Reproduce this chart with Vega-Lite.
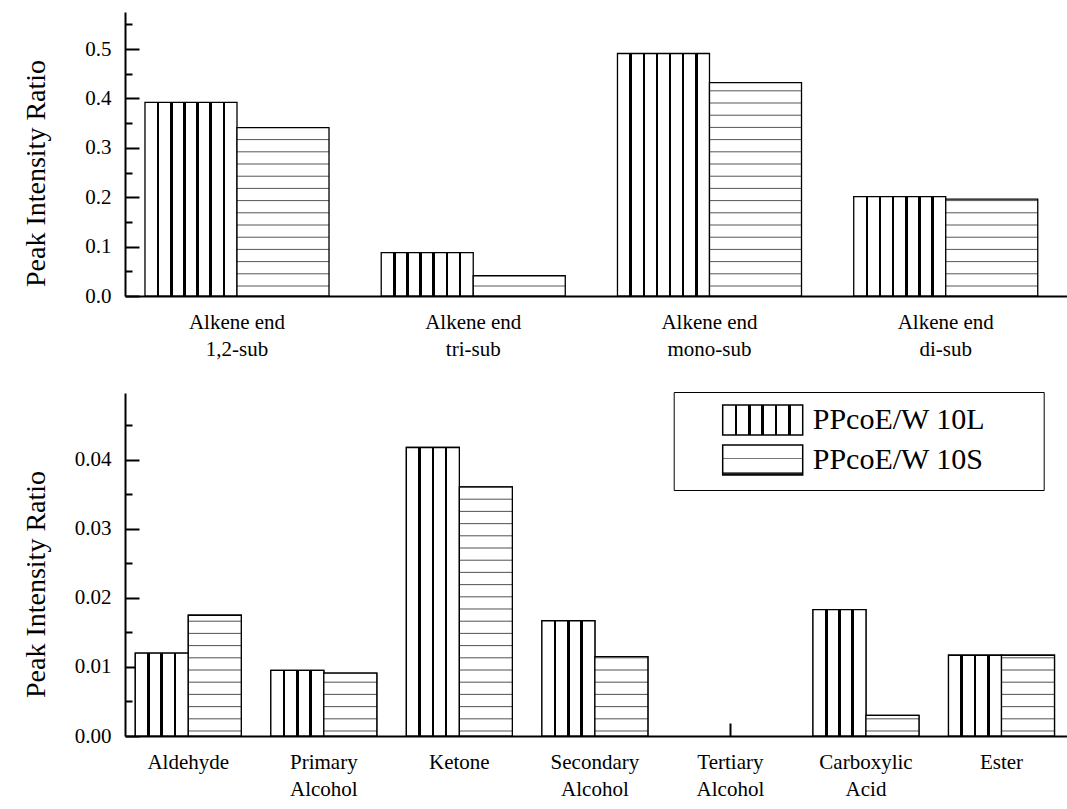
{
  "$schema": "https://vega.github.io/schema/vega-lite/v6.json",
  "background": "white",
  "padding": {"left": 22, "top": 12, "right": 0, "bottom": 0},
  "spacing": 32,
  "params": [
    {"name": "lGradTop", "value": {"gradient": "linear", "x1": 0, "y1": 0, "x2": 1, "y2": 0, "stops": [
      {"offset": 0, "color": "#ffffff"},
      {"offset": 0.129, "color": "#ffffff"}, {"offset": 0.129, "color": "#000000"}, {"offset": 0.157, "color": "#000000"}, {"offset": 0.157, "color": "#ffffff"},
      {"offset": 0.272, "color": "#ffffff"}, {"offset": 0.272, "color": "#000000"}, {"offset": 0.300, "color": "#000000"}, {"offset": 0.300, "color": "#ffffff"},
      {"offset": 0.415, "color": "#ffffff"}, {"offset": 0.415, "color": "#000000"}, {"offset": 0.443, "color": "#000000"}, {"offset": 0.443, "color": "#ffffff"},
      {"offset": 0.557, "color": "#ffffff"}, {"offset": 0.557, "color": "#000000"}, {"offset": 0.585, "color": "#000000"}, {"offset": 0.585, "color": "#ffffff"},
      {"offset": 0.700, "color": "#ffffff"}, {"offset": 0.700, "color": "#000000"}, {"offset": 0.728, "color": "#000000"}, {"offset": 0.728, "color": "#ffffff"},
      {"offset": 0.843, "color": "#ffffff"}, {"offset": 0.843, "color": "#000000"}, {"offset": 0.871, "color": "#000000"}, {"offset": 0.871, "color": "#ffffff"},
      {"offset": 1, "color": "#ffffff"}
    ]}},
    {"name": "lGradBottom", "value": {"gradient": "linear", "x1": 0, "y1": 0, "x2": 1, "y2": 0, "stops": [
      {"offset": 0, "color": "#ffffff"},
      {"offset": 0.225, "color": "#ffffff"}, {"offset": 0.225, "color": "#000000"}, {"offset": 0.275, "color": "#000000"}, {"offset": 0.275, "color": "#ffffff"},
      {"offset": 0.475, "color": "#ffffff"}, {"offset": 0.475, "color": "#000000"}, {"offset": 0.525, "color": "#000000"}, {"offset": 0.525, "color": "#ffffff"},
      {"offset": 0.725, "color": "#ffffff"}, {"offset": 0.725, "color": "#000000"}, {"offset": 0.775, "color": "#000000"}, {"offset": 0.775, "color": "#ffffff"},
      {"offset": 1, "color": "#ffffff"}
    ]}},
    {"name": "lGradLegend", "value": {"gradient": "linear", "x1": 0, "y1": 0, "x2": 1, "y2": 0, "stops": [
      {"offset": 0, "color": "#ffffff"},
      {"offset": 0.0395, "color": "#ffffff"}, {"offset": 0.0395, "color": "#000000"}, {"offset": 0.0479, "color": "#000000"}, {"offset": 0.0479, "color": "#ffffff"},
      {"offset": 0.0831, "color": "#ffffff"}, {"offset": 0.0831, "color": "#000000"}, {"offset": 0.0915, "color": "#000000"}, {"offset": 0.0915, "color": "#ffffff"},
      {"offset": 0.1268, "color": "#ffffff"}, {"offset": 0.1268, "color": "#000000"}, {"offset": 0.1352, "color": "#000000"}, {"offset": 0.1352, "color": "#ffffff"},
      {"offset": 0.1704, "color": "#ffffff"}, {"offset": 0.1704, "color": "#000000"}, {"offset": 0.1788, "color": "#000000"}, {"offset": 0.1788, "color": "#ffffff"},
      {"offset": 0.2141, "color": "#ffffff"}, {"offset": 0.2141, "color": "#000000"}, {"offset": 0.2225, "color": "#000000"}, {"offset": 0.2225, "color": "#ffffff"},
      {"offset": 1, "color": "#ffffff"}
    ]}},
    {"name": "sGradLegend", "value": {"gradient": "linear", "x1": 0, "y1": 0, "x2": 0, "y2": 1, "stops": [
      {"offset": 0, "color": "#ffffff"},
      {"offset": 0.42, "color": "#ffffff"}, {"offset": 0.45, "color": "#777777"}, {"offset": 0.48, "color": "#ffffff"},
      {"offset": 0.89, "color": "#ffffff"}, {"offset": 0.93, "color": "#222222"}, {"offset": 1, "color": "#222222"}
    ]}},
    {"name": "sStopsTop", "value": [
      {"offset": 0, "color": "#ffffff"},
      {"offset": 0.0317, "color": "#ffffff"}, {"offset": 0.0352, "color": "#555555"}, {"offset": 0.0387, "color": "#ffffff"},
      {"offset": 0.0747, "color": "#ffffff"}, {"offset": 0.0782, "color": "#555555"}, {"offset": 0.0817, "color": "#ffffff"},
      {"offset": 0.1176, "color": "#ffffff"}, {"offset": 0.1211, "color": "#555555"}, {"offset": 0.1246, "color": "#ffffff"},
      {"offset": 0.1606, "color": "#ffffff"}, {"offset": 0.1641, "color": "#555555"}, {"offset": 0.1676, "color": "#ffffff"},
      {"offset": 0.2035, "color": "#ffffff"}, {"offset": 0.2070, "color": "#555555"}, {"offset": 0.2105, "color": "#ffffff"},
      {"offset": 0.2465, "color": "#ffffff"}, {"offset": 0.2500, "color": "#555555"}, {"offset": 0.2535, "color": "#ffffff"},
      {"offset": 0.2895, "color": "#ffffff"}, {"offset": 0.2930, "color": "#555555"}, {"offset": 0.2965, "color": "#ffffff"},
      {"offset": 0.3324, "color": "#ffffff"}, {"offset": 0.3359, "color": "#555555"}, {"offset": 0.3394, "color": "#ffffff"},
      {"offset": 0.3754, "color": "#ffffff"}, {"offset": 0.3789, "color": "#555555"}, {"offset": 0.3824, "color": "#ffffff"},
      {"offset": 0.4183, "color": "#ffffff"}, {"offset": 0.4218, "color": "#555555"}, {"offset": 0.4253, "color": "#ffffff"},
      {"offset": 0.4613, "color": "#ffffff"}, {"offset": 0.4648, "color": "#555555"}, {"offset": 0.4683, "color": "#ffffff"},
      {"offset": 0.5042, "color": "#ffffff"}, {"offset": 0.5077, "color": "#555555"}, {"offset": 0.5112, "color": "#ffffff"},
      {"offset": 0.5472, "color": "#ffffff"}, {"offset": 0.5507, "color": "#555555"}, {"offset": 0.5542, "color": "#ffffff"},
      {"offset": 0.5902, "color": "#ffffff"}, {"offset": 0.5937, "color": "#555555"}, {"offset": 0.5972, "color": "#ffffff"},
      {"offset": 0.6331, "color": "#ffffff"}, {"offset": 0.6366, "color": "#555555"}, {"offset": 0.6401, "color": "#ffffff"},
      {"offset": 0.6761, "color": "#ffffff"}, {"offset": 0.6796, "color": "#555555"}, {"offset": 0.6831, "color": "#ffffff"},
      {"offset": 0.7190, "color": "#ffffff"}, {"offset": 0.7225, "color": "#555555"}, {"offset": 0.7260, "color": "#ffffff"},
      {"offset": 0.7620, "color": "#ffffff"}, {"offset": 0.7655, "color": "#555555"}, {"offset": 0.7690, "color": "#ffffff"},
      {"offset": 0.8050, "color": "#ffffff"}, {"offset": 0.8085, "color": "#555555"}, {"offset": 0.8120, "color": "#ffffff"},
      {"offset": 0.8479, "color": "#ffffff"}, {"offset": 0.8514, "color": "#555555"}, {"offset": 0.8549, "color": "#ffffff"},
      {"offset": 0.8909, "color": "#ffffff"}, {"offset": 0.8944, "color": "#555555"}, {"offset": 0.8979, "color": "#ffffff"},
      {"offset": 0.9338, "color": "#ffffff"}, {"offset": 0.9373, "color": "#555555"}, {"offset": 0.9408, "color": "#ffffff"},
      {"offset": 0.9768, "color": "#ffffff"}, {"offset": 0.9803, "color": "#555555"}, {"offset": 0.9838, "color": "#ffffff"},
      {"offset": 1, "color": "#ffffff"}
    ]},
    {"name": "sStopsBottom", "value": [
      {"offset": 0, "color": "#ffffff"},
      {"offset": 0.0116, "color": "#ffffff"}, {"offset": 0.0146, "color": "#555555"}, {"offset": 0.0176, "color": "#ffffff"},
      {"offset": 0.0471, "color": "#ffffff"}, {"offset": 0.0501, "color": "#555555"}, {"offset": 0.0531, "color": "#ffffff"},
      {"offset": 0.0827, "color": "#ffffff"}, {"offset": 0.0857, "color": "#555555"}, {"offset": 0.0887, "color": "#ffffff"},
      {"offset": 0.1183, "color": "#ffffff"}, {"offset": 0.1213, "color": "#555555"}, {"offset": 0.1243, "color": "#ffffff"},
      {"offset": 0.1539, "color": "#ffffff"}, {"offset": 0.1569, "color": "#555555"}, {"offset": 0.1599, "color": "#ffffff"},
      {"offset": 0.1894, "color": "#ffffff"}, {"offset": 0.1924, "color": "#555555"}, {"offset": 0.1954, "color": "#ffffff"},
      {"offset": 0.2250, "color": "#ffffff"}, {"offset": 0.2280, "color": "#555555"}, {"offset": 0.2310, "color": "#ffffff"},
      {"offset": 0.2606, "color": "#ffffff"}, {"offset": 0.2636, "color": "#555555"}, {"offset": 0.2666, "color": "#ffffff"},
      {"offset": 0.2961, "color": "#ffffff"}, {"offset": 0.2991, "color": "#555555"}, {"offset": 0.3021, "color": "#ffffff"},
      {"offset": 0.3317, "color": "#ffffff"}, {"offset": 0.3347, "color": "#555555"}, {"offset": 0.3377, "color": "#ffffff"},
      {"offset": 0.3673, "color": "#ffffff"}, {"offset": 0.3703, "color": "#555555"}, {"offset": 0.3733, "color": "#ffffff"},
      {"offset": 0.4028, "color": "#ffffff"}, {"offset": 0.4058, "color": "#555555"}, {"offset": 0.4088, "color": "#ffffff"},
      {"offset": 0.4384, "color": "#ffffff"}, {"offset": 0.4414, "color": "#555555"}, {"offset": 0.4444, "color": "#ffffff"},
      {"offset": 0.4740, "color": "#ffffff"}, {"offset": 0.4770, "color": "#555555"}, {"offset": 0.4800, "color": "#ffffff"},
      {"offset": 0.5095, "color": "#ffffff"}, {"offset": 0.5125, "color": "#555555"}, {"offset": 0.5155, "color": "#ffffff"},
      {"offset": 0.5451, "color": "#ffffff"}, {"offset": 0.5481, "color": "#555555"}, {"offset": 0.5511, "color": "#ffffff"},
      {"offset": 0.5807, "color": "#ffffff"}, {"offset": 0.5837, "color": "#555555"}, {"offset": 0.5867, "color": "#ffffff"},
      {"offset": 0.6162, "color": "#ffffff"}, {"offset": 0.6192, "color": "#555555"}, {"offset": 0.6222, "color": "#ffffff"},
      {"offset": 0.6518, "color": "#ffffff"}, {"offset": 0.6548, "color": "#555555"}, {"offset": 0.6578, "color": "#ffffff"},
      {"offset": 0.6874, "color": "#ffffff"}, {"offset": 0.6904, "color": "#555555"}, {"offset": 0.6934, "color": "#ffffff"},
      {"offset": 0.7229, "color": "#ffffff"}, {"offset": 0.7259, "color": "#555555"}, {"offset": 0.7289, "color": "#ffffff"},
      {"offset": 0.7585, "color": "#ffffff"}, {"offset": 0.7615, "color": "#555555"}, {"offset": 0.7645, "color": "#ffffff"},
      {"offset": 0.7941, "color": "#ffffff"}, {"offset": 0.7971, "color": "#555555"}, {"offset": 0.8001, "color": "#ffffff"},
      {"offset": 0.8297, "color": "#ffffff"}, {"offset": 0.8327, "color": "#555555"}, {"offset": 0.8357, "color": "#ffffff"},
      {"offset": 0.8652, "color": "#ffffff"}, {"offset": 0.8682, "color": "#555555"}, {"offset": 0.8712, "color": "#ffffff"},
      {"offset": 0.9008, "color": "#ffffff"}, {"offset": 0.9038, "color": "#555555"}, {"offset": 0.9068, "color": "#ffffff"},
      {"offset": 0.9364, "color": "#ffffff"}, {"offset": 0.9394, "color": "#555555"}, {"offset": 0.9424, "color": "#ffffff"},
      {"offset": 0.9719, "color": "#ffffff"}, {"offset": 0.9749, "color": "#555555"}, {"offset": 0.9779, "color": "#ffffff"},
      {"offset": 1, "color": "#ffffff"}
    ]}
  ],
  "config": {
    "font": "Liberation Serif",
    "view": {"stroke": null}
  },
  "resolve": {
    "scale": {"fill": "independent", "xOffset": "independent"},
    "legend": {"fill": "independent"}
  },
  "vconcat": [
    {
      "width": 944,
      "height": 284,
      "data": {"values": [
        {"group": "Alkene end\n1,2-sub", "series": "PPcoE/W 10L", "value": 0.392},
        {"group": "Alkene end\n1,2-sub", "series": "PPcoE/W 10S", "value": 0.341},
        {"group": "Alkene end\ntri-sub", "series": "PPcoE/W 10L", "value": 0.088},
        {"group": "Alkene end\ntri-sub", "series": "PPcoE/W 10S", "value": 0.041},
        {"group": "Alkene end\nmono-sub", "series": "PPcoE/W 10L", "value": 0.491},
        {"group": "Alkene end\nmono-sub", "series": "PPcoE/W 10S", "value": 0.432},
        {"group": "Alkene end\ndi-sub", "series": "PPcoE/W 10L", "value": 0.201},
        {"group": "Alkene end\ndi-sub", "series": "PPcoE/W 10S", "value": 0.196}
      ]},
      "mark": {
        "type": "bar",
        "stroke": "black",
        "strokeWidth": 1.3,
        "fill": {"expr": "datum.series === 'PPcoE/W 10L' ? lGradTop : {gradient: 'linear', x1: 0, y1: 1, x2: 0, y2: 1 - 0.575 / max(datum.value, 0.0001), stops: sStopsTop}"}
      },
      "encoding": {
        "x": {
          "field": "group",
          "type": "nominal",
          "sort": null,
          "scale": {"paddingInner": 0.221, "paddingOuter": 0.1084, "align": 0.39},
          "axis": {
            "title": null, "grid": false, "labelAngle": 0,
            "labelExpr": "split(datum.label, '\\n')",
            "labelFont": "Liberation Serif", "labelFontSize": 21, "labelColor": "black", "labelLineHeight": 27,
            "domainColor": "black", "domainWidth": 2, "tickColor": "black", "tickWidth": 2,
            "tickSize": -13, "labelPadding": 28
          }
        },
        "xOffset": {"field": "series", "type": "nominal", "sort": null, "scale": {"paddingInner": 0, "paddingOuter": 0}},
        "y": {
          "field": "value",
          "type": "quantitative",
          "stack": null,
          "scale": {"domain": [0, 0.575], "nice": false},
          "axis": {
            "title": "Peak Intensity Ratio",
            "titleFont": "Liberation Serif", "titleFontSize": 28, "titleFontWeight": "normal", "titleColor": "black",
            "titleX": -75, "titleY": 161,
            "grid": false,
            "values": [0, 0.05, 0.1, 0.15, 0.2, 0.25, 0.3, 0.35, 0.4, 0.45, 0.5, 0.55],
            "labelExpr": "round(datum.value * 20) % 2 == 0 ? format(datum.value, '.1f') : ''",
            "labelFont": "Liberation Serif", "labelFontSize": 21, "labelColor": "black",
            "domainColor": "black", "domainWidth": 2, "tickColor": "black", "tickWidth": 2,
            "tickSize": {"condition": {"test": "round(datum.value * 20) % 2 == 0", "value": -14}, "value": -7},
            "labelPadding": 28
          }
        }
      }
    },
    {
      "width": 944,
      "height": 343,
      "data": {"values": [
        {"group": "Aldehyde", "series": "PPcoE/W 10L", "value": 0.0120},
        {"group": "Aldehyde", "series": "PPcoE/W 10S", "value": 0.0175},
        {"group": "Primary\nAlcohol", "series": "PPcoE/W 10L", "value": 0.0095},
        {"group": "Primary\nAlcohol", "series": "PPcoE/W 10S", "value": 0.0091},
        {"group": "Ketone", "series": "PPcoE/W 10L", "value": 0.0418},
        {"group": "Ketone", "series": "PPcoE/W 10S", "value": 0.0361},
        {"group": "Secondary\nAlcohol", "series": "PPcoE/W 10L", "value": 0.0167},
        {"group": "Secondary\nAlcohol", "series": "PPcoE/W 10S", "value": 0.0115},
        {"group": "Tertiary\nAlcohol", "series": "PPcoE/W 10L", "value": 0},
        {"group": "Tertiary\nAlcohol", "series": "PPcoE/W 10S", "value": 0},
        {"group": "Carboxylic\nAcid", "series": "PPcoE/W 10L", "value": 0.0183},
        {"group": "Carboxylic\nAcid", "series": "PPcoE/W 10S", "value": 0.0030},
        {"group": "Ester", "series": "PPcoE/W 10L", "value": 0.0117},
        {"group": "Ester", "series": "PPcoE/W 10S", "value": 0.0117}
      ]},
      "transform": [{"filter": "datum.value > 0"}],
      "encoding": {
        "x": {
          "field": "group",
          "type": "nominal",
          "sort": null,
          "scale": {
            "domain": ["Aldehyde", "Primary\nAlcohol", "Ketone", "Secondary\nAlcohol", "Tertiary\nAlcohol", "Carboxylic\nAcid", "Ester"],
            "paddingInner": 0.218, "paddingOuter": 0.0915, "align": 0.415
          },
          "axis": {
            "title": null, "grid": false, "labelAngle": 0,
            "labelExpr": "split(datum.label, '\\n')",
            "labelFont": "Liberation Serif", "labelFontSize": 21, "labelColor": "black", "labelLineHeight": 27,
            "domainColor": "black", "domainWidth": 2, "tickColor": "black", "tickWidth": 2,
            "tickSize": -13, "labelPadding": 28
          }
        },
        "xOffset": {"field": "series", "type": "nominal", "sort": null, "scale": {"domain": ["PPcoE/W 10L", "PPcoE/W 10S"], "paddingInner": 0, "paddingOuter": 0}},
        "y": {
          "field": "value",
          "type": "quantitative",
          "stack": null,
          "scale": {"domain": [0, 0.0497], "nice": false},
          "axis": {
            "title": "Peak Intensity Ratio",
            "titleFont": "Liberation Serif", "titleFontSize": 28, "titleFontWeight": "normal", "titleColor": "black",
            "titleX": -75, "titleY": 191,
            "grid": false,
            "values": [0, 0.005, 0.01, 0.015, 0.02, 0.025, 0.03, 0.035, 0.04, 0.045],
            "labelExpr": "round(datum.value * 200) % 2 == 0 ? format(datum.value, '.2f') : ''",
            "labelFont": "Liberation Serif", "labelFontSize": 21, "labelColor": "black",
            "domainColor": "black", "domainWidth": 2, "tickColor": "black", "tickWidth": 2,
            "tickSize": {"condition": {"test": "round(datum.value * 200) % 2 == 0", "value": -14}, "value": -7},
            "labelPadding": 28
          }
        }
      },
      "layer": [
        {
          "mark": {"type": "bar", "stroke": "black", "strokeWidth": 1.3},
          "encoding": {
            "fill": {
              "field": "series",
              "type": "nominal",
              "sort": null,
              "scale": {"domain": ["PPcoE/W 10L", "PPcoE/W 10S"], "range": [{"expr": "lGradLegend"}, {"expr": "sGradLegend"}]},
              "legend": {
                "title": " ",
                "titleOrient": "left",
                "titlePadding": 61,
                "orient": "none",
                "legendX": 548.7,
                "legendY": -1,
                "symbolType": "M-2.667,-1H2.667V1H-2.667ZM17.7,0",
                "symbolSize": 900,
                "symbolStrokeWidth": 1.5,
                "symbolStrokeColor": "black",
                "symbolOpacity": 1,
                "labelFont": "Liberation Serif",
                "labelFontSize": 30,
                "labelColor": "black",
                "labelOffset": 34,
                "labelLimit": 600,
                "rowPadding": 4,
                "padding": 12,
                "strokeColor": "black",
                "fillColor": "white"
              }
            }
          }
        },
        {
          "mark": {
            "type": "bar",
            "stroke": "black",
            "strokeWidth": 1.3,
            "fill": {"expr": "datum.series === 'PPcoE/W 10L' ? lGradBottom : {gradient: 'linear', x1: 0, y1: 1, x2: 0, y2: 1 - 0.0497 / max(datum.value, 0.00001), stops: sStopsBottom}"}
          }
        }
      ]
    }
  ]
}
